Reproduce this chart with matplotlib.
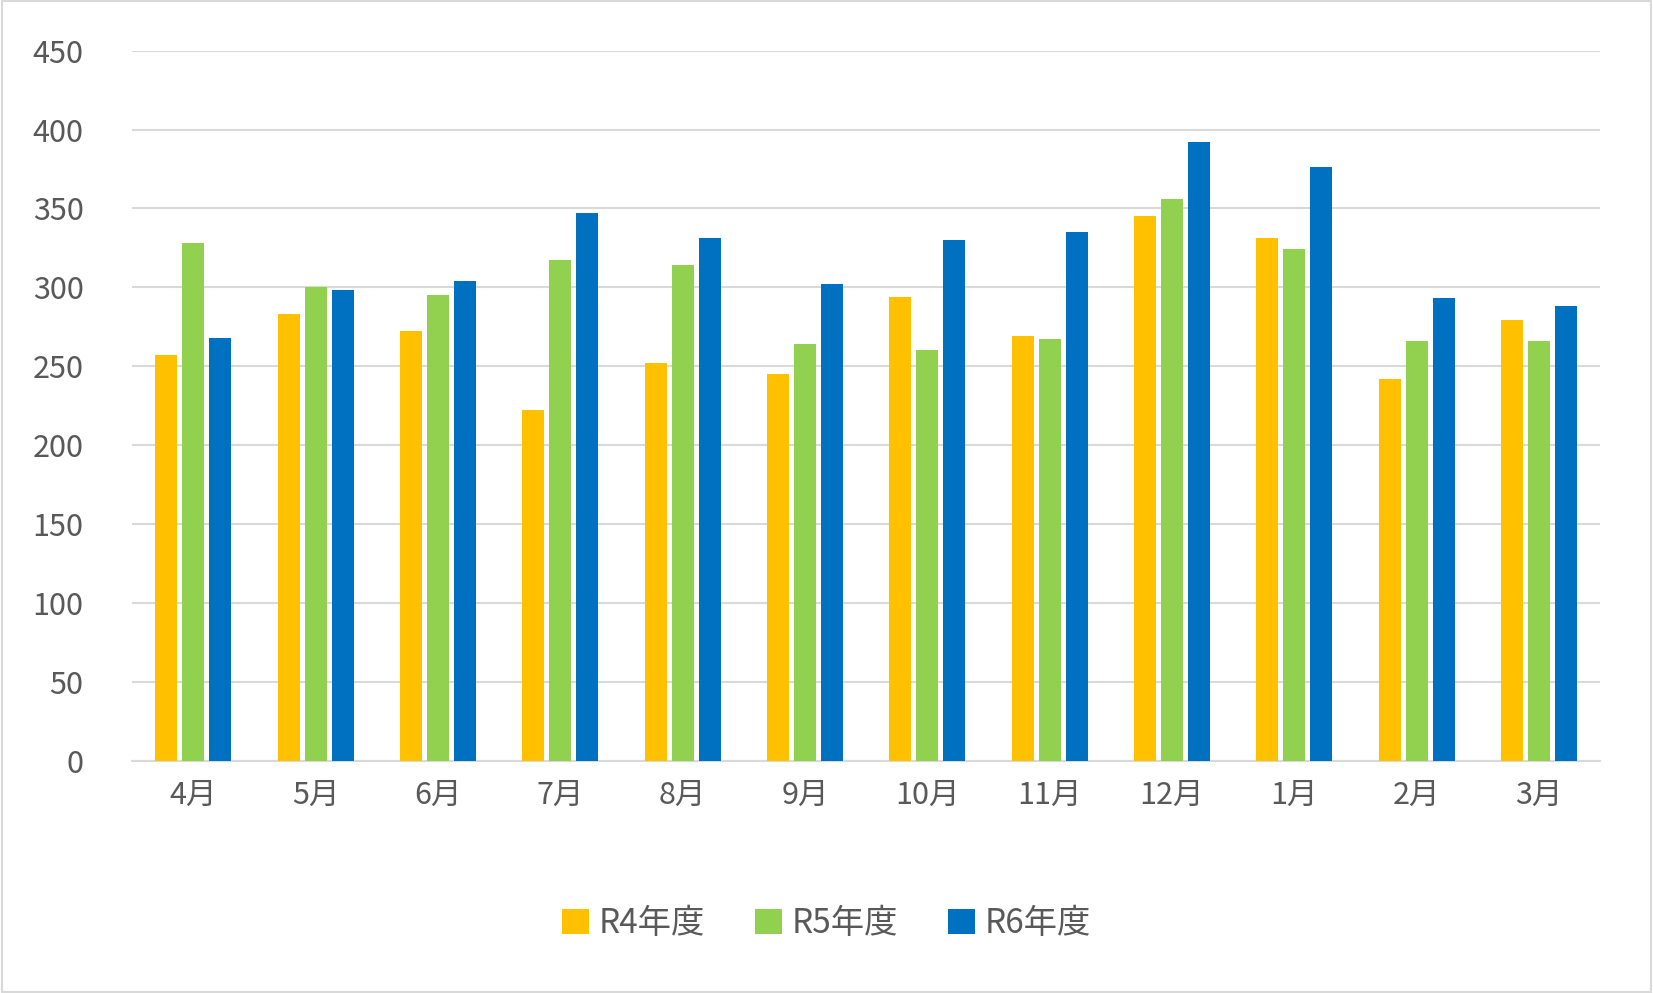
import matplotlib
matplotlib.use("Agg")
import matplotlib.pyplot as plt
import numpy as np

plt.rcParams["font.family"] = ["Noto Sans CJK JP"]

months = ["4月","5月","6月","7月","8月","9月","10月","11月","12月","1月","2月","3月"]
r4 = [257,283,272,222,252,245,294,269,345,331,242,279]
r5 = [328,300,295,317,314,264,260,267,356,324,266,266]
r6 = [268,298,304,347,331,302,330,335,392,376,293,288]
series = [("R4年度", r4, "#FFC000"), ("R5年度", r5, "#92D050"), ("R6年度", r6, "#0070C0")]

fig = plt.figure(figsize=(16.53, 9.93), dpi=100)
fig.patches.append(plt.Rectangle((0.001,0.001),0.998,0.998, transform=fig.transFigure,
                                 fill=False, edgecolor="#D9D9D9", linewidth=1.5))
ax = fig.add_axes([0.08, 0.234, 0.888, 0.715])
x = np.arange(len(months))
w = 0.18
for i, (name, vals, c) in enumerate(series):
    ax.bar(x + (i-1)*0.22, vals, w, color=c, label=name, zorder=3)

ax.set_ylim(0, 450)
ax.set_yticks(range(0, 451, 50))
ax.set_xlim(-0.5, len(months)-0.5)
ax.set_xticks(x)
ax.set_xticklabels(months)
ax.grid(axis="y", color="#D9D9D9", linewidth=1.5, zorder=0)
for s in ["top","right","left"]:
    ax.spines[s].set_visible(False)
ax.spines["bottom"].set_color("#D9D9D9")
ax.spines["bottom"].set_linewidth(1.5)
ax.tick_params(axis="both", length=0, labelsize=22, colors="#595959", pad=14)
ax.tick_params(axis="y", pad=35)
for t in ax.get_yticklabels():
    t.set_horizontalalignment("right")
leg = fig.legend(loc="center", bbox_to_anchor=(0.5, 0.07), ncol=3, frameon=False,
                 fontsize=24, handlelength=0.8, handleheight=0.8, columnspacing=1.5,
                 handletextpad=0.3, labelcolor="#595959")
fig.savefig("out.png", dpi=100)
